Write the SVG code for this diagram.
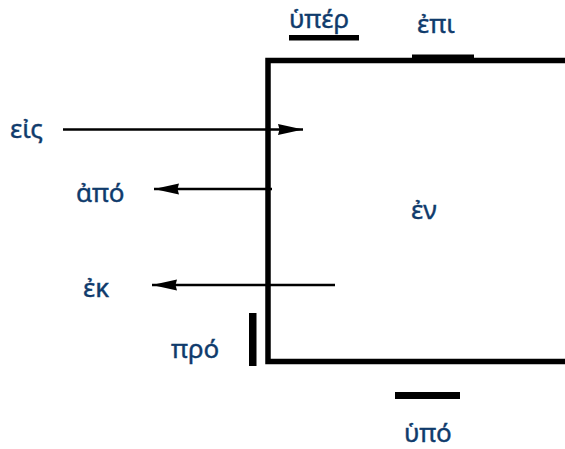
<svg xmlns="http://www.w3.org/2000/svg" width="565" height="449" viewBox="0 0 565 449">
  <style>
    .lbl { font-family: "Noto Sans", "DejaVu Sans", sans-serif; font-size: 26px; fill: #0f3b6c; stroke: #0f3b6c; stroke-width: 0.4; }
    .wall { fill: none; stroke: #000; stroke-width: 5.5; stroke-linecap: butt; }
    .bar { fill: #000; }
    .arr { stroke: #000; stroke-width: 2.5; fill: none; }
  </style>
  <defs>
    <marker id="head" viewBox="0 0 25 12" refX="25" refY="6" markerWidth="25" markerHeight="12" markerUnits="userSpaceOnUse" orient="auto">
      <path d="M0,0.5 L25,6 L0,11.5 L1.5,6 Z" fill="#000"/>
    </marker>
  </defs>

  <!-- the enclosure: open on the right -->
  <g id="box">
    <path class="wall" d="M565,60.5 H268 V361.5 H565"/>
  </g>

  <!-- position markers around the enclosure -->
  <g id="hyper">
    <rect class="bar" x="289" y="35" width="70" height="5.5"/>
    <text class="lbl" x="289" y="28">ὑπέρ</text>
  </g>
  <g id="epi">
    <rect class="bar" x="412" y="54.5" width="62" height="6"/>
    <text class="lbl" x="417" y="33">ἐπι</text>
  </g>
  <g id="pro">
    <rect class="bar" x="249" y="313" width="7.5" height="53"/>
    <text class="lbl" x="171" y="358">πρό</text>
  </g>
  <g id="hypo">
    <rect class="bar" x="395" y="392" width="65" height="7"/>
    <text class="lbl" x="404" y="442">ὑπό</text>
  </g>
  <g id="en">
    <text class="lbl" x="411" y="219">ἐν</text>
  </g>
  <g id="eis">
    <text class="lbl" x="10" y="138">εἰς</text>
  </g>
  <g id="apo">
    <text class="lbl" x="76" y="202">ἀπό</text>
  </g>
  <g id="ek">
    <text class="lbl" x="83" y="297">ἐκ</text>
  </g>

  <!-- motion arrows -->
  <g id="connectors">
    <line class="arr" x1="63" y1="129.5" x2="303" y2="129.5" marker-end="url(#head)"/>
    <line class="arr" x1="272" y1="189" x2="154" y2="189" marker-end="url(#head)"/>
    <line class="arr" x1="335" y1="285" x2="152" y2="285" marker-end="url(#head)"/>
  </g>
</svg>
